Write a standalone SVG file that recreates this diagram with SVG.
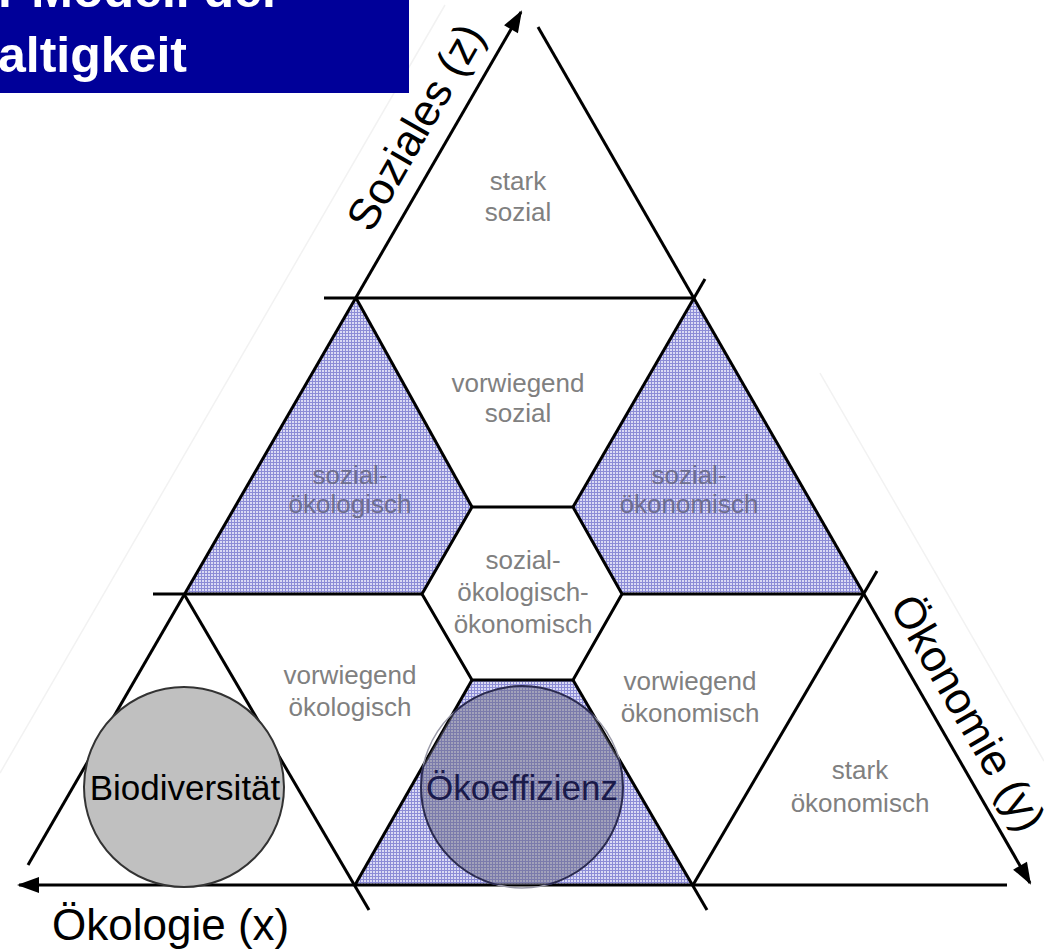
<svg xmlns="http://www.w3.org/2000/svg" width="1044" height="951" viewBox="0 0 1044 951">
<defs>
<pattern id="hatch" width="3" height="3" patternUnits="userSpaceOnUse">
<rect width="3" height="3" fill="#dadaf4"/>
<rect width="3" height="1" fill="#8c8cd6"/>
<rect width="1" height="3" fill="#8c8cd6"/>
</pattern>
<marker id="arr" markerUnits="userSpaceOnUse" markerWidth="24" markerHeight="18" refX="20" refY="8" orient="auto" overflow="visible"><path d="M0,0 L22,8 L0,16 z" fill="#000"/></marker>
<clipPath id="trap"><polygon points="472,680 573,680 693,885 355,885"/></clipPath>
</defs>
<style>
.ln{stroke:#000;stroke-width:3;fill:none}
.faint{stroke:#f2f2f2;stroke-width:1.5;fill:none}
.lbl{font-family:"Liberation Sans",Arial,sans-serif;font-size:26px;fill:#808080;text-anchor:middle}
.lblb{fill:#6e6e8e}
.blue{fill:url(#hatch);stroke:none}
.ax{font-family:"Liberation Sans",Arial,sans-serif;font-size:44px;fill:#000}
.big{font-family:"Liberation Sans",Arial,sans-serif;font-size:35px;text-anchor:middle}
.title{font-family:"Liberation Sans",Arial,sans-serif;font-size:50px;font-weight:bold;fill:#fff}
</style>
<rect width="1044" height="951" fill="#fff"/>
<g id="faint-lines">
<line class="faint" x1="445" y1="5" x2="0" y2="773"/>
<line class="faint" x1="820" y1="373" x2="1044" y2="761"/>
</g>
<g id="title">
<rect x="0" y="0" width="409" height="93" fill="#000099"/>
<text class="title" x="-2" y="7" font-size="51">r Modell der</text>
<text class="title" x="-2" y="72">altigkeit</text>
</g>
<g id="stark-sozial"><text class="lbl" x="518" y="190">stark</text><text class="lbl" x="518" y="221">sozial</text></g>
<g id="vorwiegend-sozial"><text class="lbl" x="518" y="392">vorwiegend</text><text class="lbl" x="518" y="422">sozial</text></g>
<g id="sozial-oekologisch"><polygon class="blue" points="356,298 472,507 422,594 184,594"/><text class="lbl lblb" x="350" y="484">sozial-</text><text class="lbl lblb" x="350" y="513">ökologisch</text></g>
<g id="sozial-oekonomisch"><polygon class="blue" points="694,298 864,594 622,594 573,507"/><text class="lbl lblb" x="689" y="484">sozial-</text><text class="lbl lblb" x="689" y="513">ökonomisch</text></g>
<g id="zentrum"><text class="lbl" x="523" y="569">sozial-</text><text class="lbl" x="523" y="601">ökologisch-</text><text class="lbl" x="523" y="633">ökonomisch</text></g>
<g id="vorwiegend-oekologisch"><text class="lbl" x="350" y="684">vorwiegend</text><text class="lbl" x="350" y="716">ökologisch</text></g>
<g id="vorwiegend-oekonomisch"><text class="lbl" x="690" y="690">vorwiegend</text><text class="lbl" x="690" y="722">ökonomisch</text></g>
<g id="stark-oekonomisch"><text class="lbl" x="860" y="779">stark</text><text class="lbl" x="860" y="812">ökonomisch</text></g>
<g id="oekoeffizienz-feld"><polygon class="blue" points="472,680 573,680 693,885 355,885"/></g>
<g id="connectors">
<line class="ln" x1="28" y1="865" x2="521" y2="12" marker-end="url(#arr)"/>
<line class="ln" x1="538" y1="27" x2="1030" y2="883" marker-end="url(#arr)"/>
<line class="ln" x1="1007" y1="885" x2="19" y2="885" marker-end="url(#arr)"/>
<line class="ln" x1="324" y1="298" x2="694" y2="298"/>
<line class="ln" x1="153" y1="594" x2="422" y2="594"/>
<line class="ln" x1="622" y1="594" x2="864" y2="594"/>
<line class="ln" x1="356" y1="298" x2="472" y2="507"/>
<line class="ln" x1="705" y1="279" x2="573" y2="507"/>
<polygon class="ln" points="472,507 573,507 622,594 573,680 472,680 422,594"/>
<line class="ln" x1="472" y1="680" x2="355" y2="885"/>
<line class="ln" x1="573" y1="680" x2="707" y2="910"/>
<line class="ln" x1="184" y1="594" x2="369" y2="910"/>
<line class="ln" x1="877" y1="571" x2="693" y2="885"/>
</g>
<g id="biodiversitaet">
<circle cx="184" cy="787" r="100" fill="#c0c0c0" stroke="#333" stroke-width="2"/>
<text class="big" x="185" y="800" fill="#000">Biodiversität</text>
</g>
<g id="oekoeffizienz">
<circle cx="522" cy="787" r="101" fill="none" stroke="#9a9aa8" stroke-width="1.5"/>
<circle cx="522" cy="787" r="101" fill="#6a6a80" fill-opacity="0.5" stroke="#2a2a50" stroke-width="2" clip-path="url(#trap)"/>
<text class="big" x="522" y="800" fill="#1a1a4a">Ökoeffizienz</text>
</g>
<g id="achsen-labels">
<text class="ax" transform="translate(889,606) rotate(60)" font-size="40">Ökonomie (y)</text>
<text class="ax" transform="translate(371,234) rotate(-60)">Soziales (z)</text>
<text class="ax" x="52" y="940" font-size="46">Ökologie (x)</text>
</g>
</svg>
